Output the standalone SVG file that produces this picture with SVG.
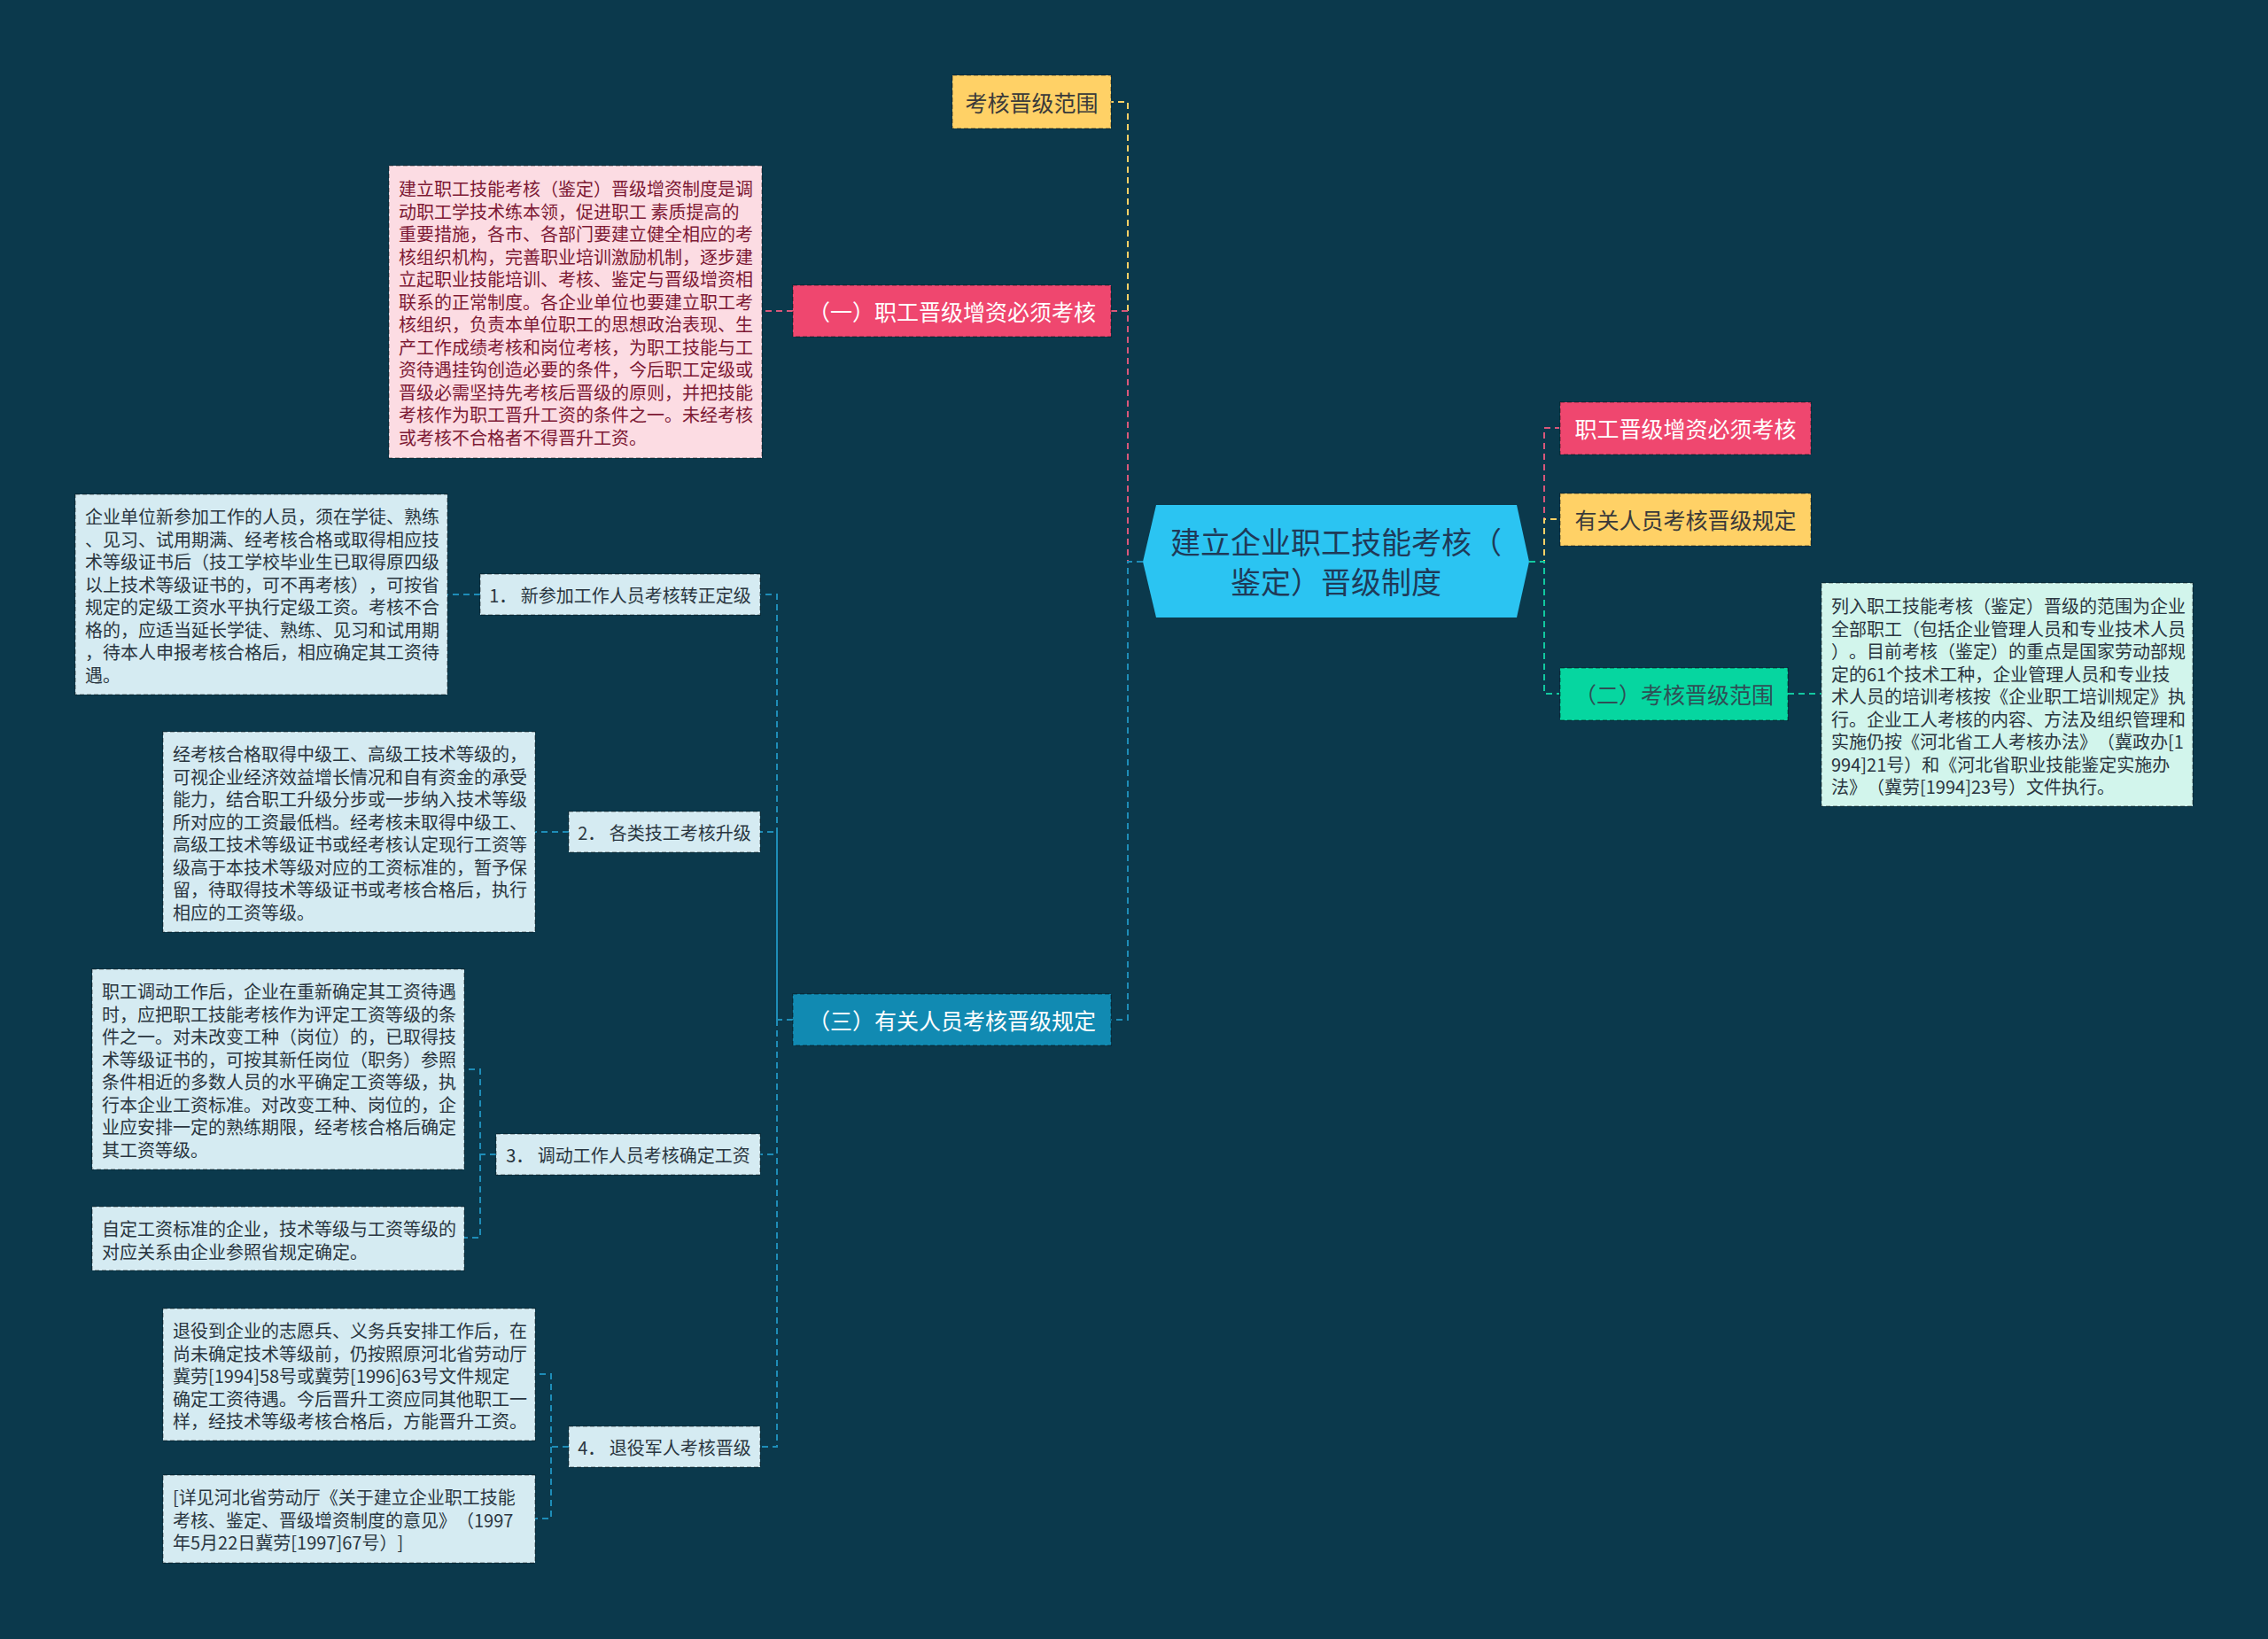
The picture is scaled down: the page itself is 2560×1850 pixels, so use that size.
<svg xmlns="http://www.w3.org/2000/svg" width="2560" height="1850" viewBox="0 0 2560 1850">
<style>
text{font-family:"Noto Sans CJK SC","Noto Sans",sans-serif;text-spacing-trim:space-all;}
.bd{stroke:rgba(0,0,0,0.32);stroke-width:1.5;stroke-dasharray:5 3;}
.l1{font-size:25px;dominant-baseline:central;text-anchor:middle;}
.it{font-size:20px;dominant-baseline:central;text-anchor:middle;fill:#2a3640;}
.dt{font-size:20px;dominant-baseline:central;}
.c{fill:none;stroke-width:2;stroke-dasharray:7 5;}
.cy{stroke:#FFD166;}
.cp{stroke:#D9577A;}
.cb{stroke:#1E8DB8;}
.ct{stroke:#12C9A0;}
</style>
<rect x="0" y="0" width="2560" height="1850" fill="#0B394C"/>
<g id="connectors">
<path class="c cy" d="M1290,634 H1273 V115 H1254"/>
<path class="c cp" d="M1290,634 H1273 V351 H1254"/>
<path class="c cb" d="M1290,634 H1273 V1151 H1254"/>
<path class="c cp" d="M1726,634 H1743 V483 H1760"/>
<path class="c cy" d="M1726,634 H1743 V586 H1760"/>
<path class="c ct" d="M1726,634 H1743 V783 H1760"/>
<path class="c ct" d="M2018,783 H2056"/>
<path class="c cp" d="M895,351 H860"/>
<path class="c cb" d="M895,1151 H877 V671 H858"/>
<path class="c cb" d="M877,1151 V939 H858"/>
<path class="c cb" d="M877,1151 V1303 H858"/>
<path class="c cb" d="M877,1151 V1633 H858"/>
<path class="c cb" d="M542,671 H505"/>
<path class="c cb" d="M642,939 H604"/>
<path class="c cb" d="M560,1303 H542 V1207 H524"/>
<path class="c cb" d="M542,1303 V1397 H524"/>
<path class="c cb" d="M642,1633 H622 V1551 H604"/>
<path class="c cb" d="M622,1633 V1714 H604"/>
</g>
<g id="root">
<polygon points="1290,634 1305,570 1712,570 1726,634 1712,697 1305,697" fill="#2BC4F2"/>
<text x="1508" y="610" font-size="34" text-anchor="middle" dominant-baseline="central" fill="#1F3A58">建立企业职工技能考核（</text>
<text x="1508" y="655" font-size="34" text-anchor="middle" dominant-baseline="central" fill="#1F3A58">鉴定）晋级制度</text>
</g>
<g id="n-kaohe-fanwei">
<rect class="bd" x="1075" y="85" width="179" height="60" fill="#FFD166"/>
<text class="l1" x="1164.5" y="115" fill="#3a3a3a">考核晋级范围</text>
</g>
<g id="n-yi">
<rect class="bd" x="895" y="322" width="359" height="58" fill="#EF476F"/>
<text class="l1" x="1074.5" y="351" fill="#ffffff">（一）职工晋级增资必须考核</text>
</g>
<g id="d-yi">
<rect class="bd" x="439" y="187" width="421" height="330" fill="#FCDCE3"/>
<text class="dt" fill="#7D1934">
<tspan x="450" y="212">建立职工技能考核（鉴定）晋级增资制度是调</tspan>
<tspan x="450" dy="25.5">动职工学技术练本领，促进职工 素质提高的</tspan>
<tspan x="450" dy="25.5">重要措施，各市、各部门要建立健全相应的考</tspan>
<tspan x="450" dy="25.5">核组织机构，完善职业培训激励机制，逐步建</tspan>
<tspan x="450" dy="25.5">立起职业技能培训、考核、鉴定与晋级增资相</tspan>
<tspan x="450" dy="25.5">联系的正常制度。各企业单位也要建立职工考</tspan>
<tspan x="450" dy="25.5">核组织，负责本单位职工的思想政治表现、生</tspan>
<tspan x="450" dy="25.5">产工作成绩考核和岗位考核，为职工技能与工</tspan>
<tspan x="450" dy="25.5">资待遇挂钩创造必要的条件，今后职工定级或</tspan>
<tspan x="450" dy="25.5">晋级必需坚持先考核后晋级的原则，并把技能</tspan>
<tspan x="450" dy="25.5">考核作为职工晋升工资的条件之一。未经考核</tspan>
<tspan x="450" dy="25.5">或考核不合格者不得晋升工资。</tspan>
</text>
</g>
<g id="n-san">
<rect class="bd" x="895" y="1122" width="359" height="58" fill="#118AB2"/>
<text class="l1" x="1074.5" y="1151" fill="#ffffff">（三）有关人员考核晋级规定</text>
</g>
<g id="i-1">
<rect class="bd" x="542" y="648" width="316" height="46" fill="#D5EBF2"/>
<text class="it" x="700" y="671">1． 新参加工作人员考核转正定级</text>
</g>
<g id="d-1">
<rect class="bd" x="85" y="558" width="420" height="226" fill="#D5EBF2"/>
<text class="dt" fill="#2a3640">
<tspan x="96" y="582">企业单位新参加工作的人员，须在学徒、熟练</tspan>
<tspan x="96" dy="25.5">、见习、试用期满、经考核合格或取得相应技</tspan>
<tspan x="96" dy="25.5">术等级证书后（技工学校毕业生已取得原四级</tspan>
<tspan x="96" dy="25.5">以上技术等级证书的，可不再考核），可按省</tspan>
<tspan x="96" dy="25.5">规定的定级工资水平执行定级工资。考核不合</tspan>
<tspan x="96" dy="25.5">格的，应适当延长学徒、熟练、见习和试用期</tspan>
<tspan x="96" dy="25.5">，待本人申报考核合格后，相应确定其工资待</tspan>
<tspan x="96" dy="25.5">遇。</tspan>
</text>
</g>
<g id="i-2">
<rect class="bd" x="642" y="916" width="216" height="46" fill="#D5EBF2"/>
<text class="it" x="750" y="939">2． 各类技工考核升级</text>
</g>
<g id="d-2">
<rect class="bd" x="184" y="826" width="420" height="226" fill="#D5EBF2"/>
<text class="dt" fill="#2a3640">
<tspan x="195" y="850">经考核合格取得中级工、高级工技术等级的，</tspan>
<tspan x="195" dy="25.5">可视企业经济效益增长情况和自有资金的承受</tspan>
<tspan x="195" dy="25.5">能力，结合职工升级分步或一步纳入技术等级</tspan>
<tspan x="195" dy="25.5">所对应的工资最低档。经考核未取得中级工、</tspan>
<tspan x="195" dy="25.5">高级工技术等级证书或经考核认定现行工资等</tspan>
<tspan x="195" dy="25.5">级高于本技术等级对应的工资标准的，暂予保</tspan>
<tspan x="195" dy="25.5">留，待取得技术等级证书或考核合格后，执行</tspan>
<tspan x="195" dy="25.5">相应的工资等级。</tspan>
</text>
</g>
<g id="i-3">
<rect class="bd" x="560" y="1280" width="298" height="46" fill="#D5EBF2"/>
<text class="it" x="709" y="1303">3． 调动工作人员考核确定工资</text>
</g>
<g id="d-3a">
<rect class="bd" x="104" y="1094" width="420" height="226" fill="#D5EBF2"/>
<text class="dt" fill="#2a3640">
<tspan x="115" y="1118">职工调动工作后，企业在重新确定其工资待遇</tspan>
<tspan x="115" dy="25.5">时，应把职工技能考核作为评定工资等级的条</tspan>
<tspan x="115" dy="25.5">件之一。对未改变工种（岗位）的，已取得技</tspan>
<tspan x="115" dy="25.5">术等级证书的，可按其新任岗位（职务）参照</tspan>
<tspan x="115" dy="25.5">条件相近的多数人员的水平确定工资等级，执</tspan>
<tspan x="115" dy="25.5">行本企业工资标准。对改变工种、岗位的，企</tspan>
<tspan x="115" dy="25.5">业应安排一定的熟练期限，经考核合格后确定</tspan>
<tspan x="115" dy="25.5">其工资等级。</tspan>
</text>
</g>
<g id="d-3b">
<rect class="bd" x="104" y="1362" width="420" height="72" fill="#D5EBF2"/>
<text class="dt" fill="#2a3640">
<tspan x="115" y="1386">自定工资标准的企业，技术等级与工资等级的</tspan>
<tspan x="115" dy="25.5">对应关系由企业参照省规定确定。</tspan>
</text>
</g>
<g id="i-4">
<rect class="bd" x="642" y="1610" width="216" height="46" fill="#D5EBF2"/>
<text class="it" x="750" y="1633">4． 退役军人考核晋级</text>
</g>
<g id="d-4a">
<rect class="bd" x="184" y="1477" width="420" height="149" fill="#D5EBF2"/>
<text class="dt" fill="#2a3640">
<tspan x="195" y="1501">退役到企业的志愿兵、义务兵安排工作后，在</tspan>
<tspan x="195" dy="25.5">尚未确定技术等级前，仍按照原河北省劳动厅</tspan>
<tspan x="195" dy="25.5">冀劳[1994]58号或冀劳[1996]63号文件规定</tspan>
<tspan x="195" dy="25.5">确定工资待遇。今后晋升工资应同其他职工一</tspan>
<tspan x="195" dy="25.5">样，经技术等级考核合格后，方能晋升工资。</tspan>
</text>
</g>
<g id="d-4b">
<rect class="bd" x="184" y="1665" width="420" height="99" fill="#D5EBF2"/>
<text class="dt" fill="#2a3640">
<tspan x="195" y="1689">[详见河北省劳动厅《关于建立企业职工技能</tspan>
<tspan x="195" dy="25.5">考核、鉴定、晋级增资制度的意见》（1997</tspan>
<tspan x="195" dy="25.5">年5月22日冀劳[1997]67号）]</tspan>
</text>
</g>
<g id="n-right-1">
<rect class="bd" x="1761" y="454" width="283" height="59" fill="#EF476F"/>
<text class="l1" x="1902.5" y="483" fill="#ffffff">职工晋级增资必须考核</text>
</g>
<g id="n-right-2">
<rect class="bd" x="1761" y="557" width="283" height="59" fill="#FFD166"/>
<text class="l1" x="1902.5" y="586" fill="#3a3a3a">有关人员考核晋级规定</text>
</g>
<g id="n-er">
<rect class="bd" x="1761" y="754" width="257" height="59" fill="#06D6A0"/>
<text class="l1" x="1889.5" y="783" fill="#2E4F55">（二）考核晋级范围</text>
</g>
<g id="d-er">
<rect class="bd" x="2056" y="658" width="419" height="252" fill="#D2F5EC"/>
<text class="dt" fill="#2a3640">
<tspan x="2067" y="683">列入职工技能考核（鉴定）晋级的范围为企业</tspan>
<tspan x="2067" dy="25.5">全部职工（包括企业管理人员和专业技术人员</tspan>
<tspan x="2067" dy="25.5">）。目前考核（鉴定）的重点是国家劳动部规</tspan>
<tspan x="2067" dy="25.5">定的61个技术工种，企业管理人员和专业技</tspan>
<tspan x="2067" dy="25.5">术人员的培训考核按《企业职工培训规定》执</tspan>
<tspan x="2067" dy="25.5">行。企业工人考核的内容、方法及组织管理和</tspan>
<tspan x="2067" dy="25.5">实施仍按《河北省工人考核办法》（冀政办[1</tspan>
<tspan x="2067" dy="25.5">994]21号）和《河北省职业技能鉴定实施办</tspan>
<tspan x="2067" dy="25.5">法》（冀劳[1994]23号）文件执行。</tspan>
</text>
</g>
</svg>
